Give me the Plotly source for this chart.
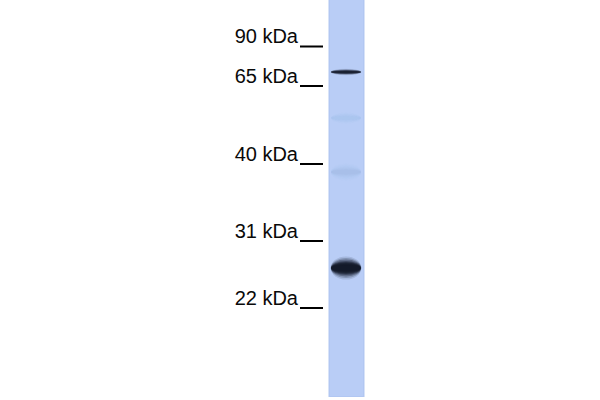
import plotly.graph_objects as go

# marker ladder (label, migration position in px from top of lane)
marker_labels = ["90 kDa", "65 kDa", "40 kDa", "31 kDa", "22 kDa"]
marker_pos = [46.5, 86, 164, 241, 308]

# bands seen in the lane: position, darkness 0..1, thickness
band_pos = [72, 118, 172, 268]
band_strength = [0.7, 0.01, 0.02, 1.0]
band_height = [3, 6, 8, 10.5]

LANE_X0, LANE_X1 = 328.5, 364.5
LANE_TOP, LANE_BOTTOM = 0, 397

fig = go.Figure()
shapes = []

# lane background with slightly darker edges
shapes.append(dict(type="rect", xref="x", yref="y", x0=LANE_X0, x1=LANE_X1,
                   y0=LANE_TOP - 10, y1=LANE_BOTTOM, line=dict(width=0),
                   fillcolor="#b2c7f2", layer="below"))
shapes.append(dict(type="rect", xref="x", yref="y", x0=LANE_X0 + 1.5, x1=LANE_X1 - 1.5,
                   y0=LANE_TOP - 10, y1=LANE_BOTTOM - 1, line=dict(width=0),
                   fillcolor="#b9cdf6", layer="below"))

# bands as stacked ellipses to fake the blur
grows = [2.2, 1.9, 1.6, 1.35, 1.15, 0.95, 0.75, 0.55]
for pos, s, h in zip(band_pos, band_strength, band_height):
    for k, grow in enumerate(grows):
        half_h = h / 2 * grow
        half_w = 15 * (0.96 + 0.03 * grow)
        dark = s * (0.12 + 0.1 * k)
        if s > 0.5:
            col = f"rgba(20,26,42,{min(dark, 0.95):.2f})"
        else:
            col = f"rgba(120,145,205,{dark * 3:.2f})"
        shapes.append(dict(type="circle", xref="x", yref="y",
                           x0=346 - half_w, x1=346 + half_w,
                           y0=pos - half_h, y1=pos + half_h,
                           line=dict(width=0), fillcolor=col))

# marker ticks
fig.add_trace(go.Scatter(
    x=[v for p in marker_pos for v in (300, 323, None)],
    y=[v for p in marker_pos for v in (p, p, None)],
    mode="lines", line=dict(color="black", width=2), hoverinfo="skip",
    showlegend=False))

# marker labels
fig.add_trace(go.Scatter(
    x=[298] * len(marker_pos), y=[p - 8.5 for p in marker_pos],
    text=marker_labels, mode="text", textposition="middle left",
    textfont=dict(family="Liberation Sans, Arial, sans-serif", size=20, color="#0a0a0a"),
    hoverinfo="skip", showlegend=False))

fig.update_layout(
    width=600, height=400,
    margin=dict(l=0, r=0, t=0, b=0),
    paper_bgcolor="white", plot_bgcolor="white",
    shapes=shapes,
    xaxis=dict(range=[0, 600], visible=False, fixedrange=True),
    yaxis=dict(range=[400, 0], visible=False, fixedrange=True),
)

# drop the default 8px body margin so the figure sits at the page corner
fig.write_html("out.html", config={"displayModeBar": False},
               post_script="document.body.style.margin='0';")
